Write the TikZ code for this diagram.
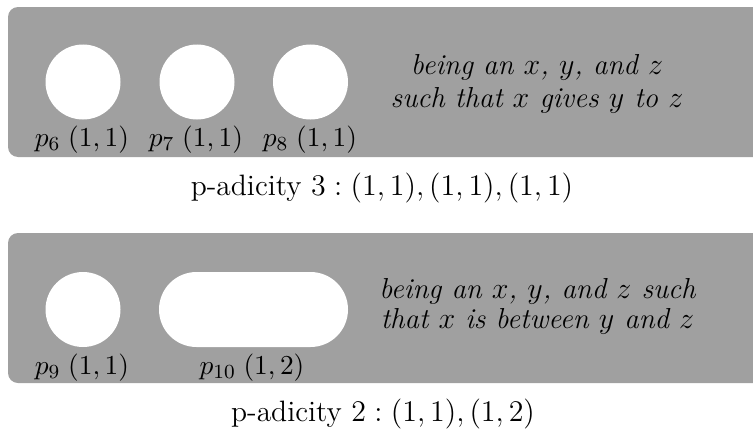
\documentclass[tikz,border=0pt]{standalone}
\usetikzlibrary{shapes.misc}
\definecolor{panelgray}{RGB}{160,160,160}
\tikzset{
  panel/.style={fill=panelgray, rounded corners=4pt},
  hole/.style={circle, fill=white, minimum size=30pt, inner sep=0pt},
  longhole/.style={rounded rectangle, fill=white, minimum width=75.6pt, minimum height=30pt, inner sep=0pt},
  plabel/.style={anchor=base, inner sep=0pt, font=\fontsize{10.95}{13}\selectfont},
  gloss/.style={align=center, inner sep=0pt},
  caption/.style={anchor=base, font=\fontsize{11.8}{14}\selectfont, inner sep=0pt}
}
\begin{document}
\begin{tikzpicture}[x=0.4pt,y=-0.4pt]
\useasboundingbox (0,0) rectangle (753,433);
\begin{scope}
  \clip (0,0) rectangle (753,433);
  \fill[panel] (8,7) rectangle (790,157);
  \fill[panel] (8,233) rectangle (790,383);
\end{scope}
% top panel
\node[hole] (h6) at (83,82) {};
\node[hole] (h7) at (197,82) {};
\node[hole] (h8) at (310.5,82) {};
\node[plabel] (l6) at (82,146.5) {$p_6\;(1,1)$};
\node[plabel] (l7) at (196,146.5) {$p_7\;(1,1)$};
\node[plabel] (l8) at (310,146.5) {$p_8\;(1,1)$};
\node[gloss, font=\fontsize{11.55}{13.3}\selectfont\itshape] (g1) at (537,84) {being an $x$, $y$, and $z$\\ such that $x$ gives $y$ to $z$};
\node[caption] (c1) at (382,195) {p-adicity $3 : (1,1),(1,1),(1,1)$};
% bottom panel
\node[hole] (h9) at (83,309.5) {};
\node[longhole] (h10) at (253.5,309.5) {};
\node[plabel] (l9) at (82,374) {$p_9\;(1,1)$};
\node[plabel] (l10) at (252,374) {$p_{10}\;(1,2)$};
\node[gloss, font=\fontsize{11.55}{12}\selectfont\itshape] (g2) at (537.5,306) {being an $x$, $y$, and $z$ such\\ that $x$ is between $y$ and $z$};
\node[caption] (c2) at (383,421) {p-adicity $2 : (1,1),(1,2)$};
\end{tikzpicture}
\end{document}
